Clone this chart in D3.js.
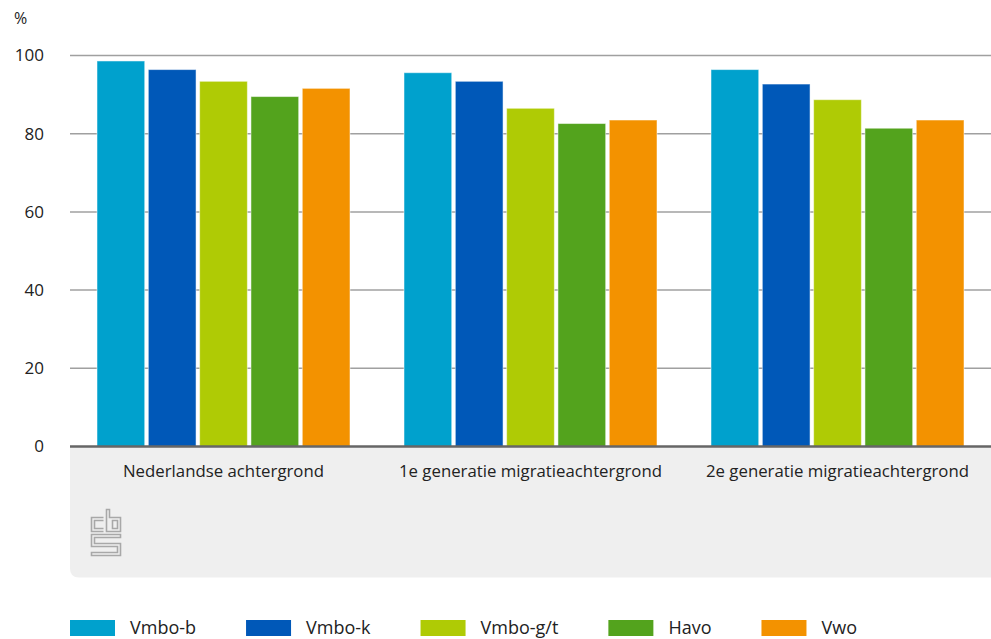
<!DOCTYPE html>
<html><head><meta charset="utf-8">
<script src="https://cdn.jsdelivr.net/npm/d3@7"></script>
<style>body{margin:0;background:#fff;font-family:"Open Sans",sans-serif;}</style>
</head><body>
<svg id="c" width="991" height="639"></svg>
<script>
const categories = ["Nederlandse achtergrond","1e generatie migratieachtergrond","2e generatie migratieachtergrond"];
const seriesNames = ["Vmbo-b","Vmbo-k","Vmbo-g/t","Havo","Vwo"];
const colors = ["#00a1cd","#0058b8","#afcb05","#53a31d","#f39200"];
const vmboB = [98.6, 95.6, 96.4];
const vmboK = [96.4, 93.4, 92.7];
const vmboGT = [93.4, 86.5, 88.7];
const havo = [89.5, 82.6, 81.4];
const vwo = [91.6, 83.5, 83.5];
const yTicks = [0,20,40,60,80,100];
const series = [vmboB, vmboK, vmboGT, havo, vwo];

const svg = d3.select("#c");
const L = 70, R = 991, T = 55.5, B = 446.5;
const y = d3.scaleLinear().domain([0,100]).range([B,T]);
const x0 = d3.scaleBand().domain(categories).range([L,R]).padding(0);
const x1 = d3.scaleBand().domain(seriesNames).range([27, x0.bandwidth()-27]).paddingInner(0.07).paddingOuter(0);

// grey panel
const ph = 131, pr = 9;
svg.append("path")
  .attr("d", `M${L},${B} H${R} V${B+ph} H${L+pr} Q${L},${B+ph} ${L},${B+ph-pr} Z`)
  .attr("fill","#efefef");

// grid
svg.append("g").selectAll("line").data(yTicks.filter(d=>d>0)).join("line")
  .attr("x1",L).attr("x2",R).attr("y1",d=>y(d)).attr("y2",d=>y(d))
  .attr("stroke","#a0a0a0").attr("stroke-width",1.5);

// y labels
svg.append("g").selectAll("text").data(yTicks).join("text")
  .attr("x",44).attr("y",d=>y(d)).attr("dy","0.35em").attr("text-anchor","end")
  .attr("font-size",17).attr("fill","#222").text(d=>d);
svg.append("text").attr("x",14).attr("y",24).attr("font-size",16).attr("fill","#222").text("%");

// bars
const g = svg.append("g");
categories.forEach((c,ci)=>{
  g.append("g").selectAll("rect").data(seriesNames.map((s,si)=>({s, v: series[si][ci], col: colors[si]}))).join("rect")
    .attr("x",d=>x0(c)+x1(d.s)).attr("width",x1.bandwidth())
    .attr("y",d=>y(d.v)).attr("height",d=>y(0)-y(d.v))
    .attr("fill",d=>d.col).attr("stroke","#fff").attr("stroke-opacity",0.5).attr("stroke-width",1);
});

// baseline
svg.append("line").attr("x1",L).attr("x2",R).attr("y1",B).attr("y2",B).attr("stroke","#666").attr("stroke-width",2.5);

// category labels
svg.append("g").selectAll("text").data(categories).join("text")
  .attr("x",d=>x0(d)+x0.bandwidth()/2).attr("y",477).attr("text-anchor","middle")
  .attr("font-size",16.8).attr("fill","#222").text(d=>d);

// cbs logo
const lg = svg.append("g").attr("transform","translate(91.5,509.5)").attr("fill","none").attr("stroke","#a8a8a8").attr("stroke-width",1.6);
lg.append("path").attr("d","M12,8 H0 V22 H12 M12,11 H3 V19 H12");
lg.append("path").attr("d","M15,0 H18 V8 H29 V22 H15 Z M21,11 H26 V19 H21 Z");
lg.append("path").attr("d","M29,25 H0 V37 H26 V43 H0 V46 H29 V34 H3 V28 H29 Z");

// legend
const lgG = svg.append("g");
let lx = 70;
seriesNames.forEach((s,i)=>{
  lgG.append("rect").attr("x",lx).attr("y",620).attr("width",45).attr("height",16).attr("fill",colors[i]);
  const t = lgG.append("text").attr("x",lx+60).attr("y",634).attr("font-size",18).attr("fill","#222").text(s);
  lx += 60 + t.node().getComputedTextLength() + 50;
});
</script>
</body></html>
